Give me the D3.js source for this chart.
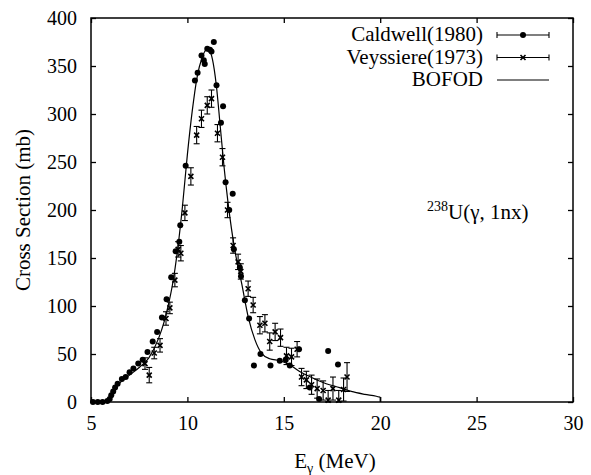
<html>
<script src="https://d3js.org/d3.v7.min.js"></script>
<style>
body{margin:0;background:#fff;}
</style>
<body>
<div class="chart"></div>
</body>
<script>
// Caldwell(1980) : [E (MeV), sigma (mb)]
const caldwell = [
  [5.1,0],[5.35,0],[5.6,0],[5.85,1],[5.97,3],[6.05,7],[6.15,11],[6.25,15],[6.38,19],
  [6.6,24],[6.8,26],[7.0,31],[7.2,35],[7.45,40],[7.68,44],[7.93,52],[8.2,63],[8.43,73],
  [8.68,88],[8.92,107],[9.16,130],[9.39,157],[9.58,167],[9.63,184],[9.91,246],[10.39,335],
  [10.53,343],[10.73,361],[10.85,356],[10.9,352],[11.03,368],[11.17,367],[11.25,365],
  [11.37,375],[11.51,330],[11.74,291],[11.85,308],[11.98,229],[12.17,200],[12.35,217],
  [12.41,159],[12.72,140],[12.78,131],[12.98,106],[13.2,87],[13.45,38],[13.79,50],
  [14.31,38],[14.79,43],[15.1,44],[15.31,38],[15.79,55],[16.35,15],[16.83,3],[17.3,53],[17.81,39]
];

// Veyssiere(1973) : [E, sigma, error]
const veyssiere = [
  [7.8,40,6],[8.02,28,8],[8.28,51,6],[8.58,59,7],[8.89,87,7],[9.09,98,6],[9.35,127,7],
  [9.52,159,8],[9.66,155,8],[9.87,197,8],[10.18,235,9],[10.48,278,9],[10.73,295,9],
  [11.03,309,9],[11.25,316,9],[11.56,280,9],[11.82,255,9],[12.08,200,8],[12.37,163,8],
  [12.63,146,8],[12.77,136,8],[13.15,118,8],[13.41,101,8],[13.76,80,9],[14.02,82,9],
  [14.27,63,9],[14.55,73,9],[14.83,67,9],[15.14,48,9],[15.4,47,9],[15.69,55,8],
  [15.92,26,9],[16.17,23,9],[16.44,18,10],[16.73,14,10],[17.04,12,10],[17.3,2,10],
  [17.55,14,12],[17.85,2,10],[18.1,13,12],[18.28,26,15]
];

// BOFOD evaluation curve
const bofod = [
  [5.9,0],[6.0,3],[6.1,8],[6.25,14],[6.5,20],[7.0,28],[7.5,36],[8.0,46],[8.5,66],[8.8,84],
  [9.0,100],[9.25,125],[9.5,160],[9.75,205],[10.0,258],[10.25,303],[10.5,338],[10.75,358],
  [11.0,367],[11.15,366],[11.3,357],[11.5,330],[11.7,288],[11.9,245],[12.1,209],[12.46,158],
  [12.81,124],[13.15,89],[13.5,65],[13.84,51],[14.27,45],[14.8,43],[15.2,40],[15.8,32],
  [16.5,25],[17.2,19],[17.9,15],[18.5,11],[19.2,8],[19.8,6],[20.0,5]
];
const bofodEnd = [[20.0,5],[20.0,0]];

const xTicks = [5, 10, 15, 20, 25, 30];
const yTicks = [0, 50, 100, 150, 200, 250, 300, 350, 400];
const legendNames = ['Caldwell(1980)', 'Veyssiere(1973)', 'BOFOD'];

const W = 591, H = 475;
const m = {left: 91, right: 18, top: 18, bottom: 73};
const FONT = "'Liberation Serif'";

const svg = d3.select('.chart').append('svg')
  .attr('width', W).attr('height', H);

const x = d3.scaleLinear().domain([5, 30]).range([m.left, W - m.right]);
const y = d3.scaleLinear().domain([0, 400]).range([H - m.bottom, m.top]);

const styleAxis = g => {
  g.attr('font-size', 20);
  g.select('.domain').remove();
  g.selectAll('line').attr('stroke', '#000').attr('stroke-width', 1.3);
  g.selectAll('text').attr('fill', '#000');
};

svg.append('g').attr('transform', `translate(0,${H - m.bottom})`)
  .call(d3.axisBottom(x).tickValues(xTicks).tickSizeInner(-5).tickSizeOuter(0).tickPadding(14))
  .call(styleAxis);
svg.append('g').attr('transform', `translate(0,${m.top})`)
  .call(d3.axisTop(x).tickValues(xTicks).tickSizeInner(-5).tickSizeOuter(0).tickFormat(''))
  .call(styleAxis);
svg.append('g').attr('transform', `translate(${m.left},0)`)
  .call(d3.axisLeft(y).tickValues(yTicks).tickSizeInner(-5).tickSizeOuter(0).tickPadding(14))
  .call(styleAxis);
svg.append('g').attr('transform', `translate(${W - m.right},0)`)
  .call(d3.axisRight(y).tickValues(yTicks).tickSizeInner(-5).tickSizeOuter(0).tickFormat(''))
  .call(styleAxis);

svg.append('rect')
  .attr('x', m.left).attr('y', m.top)
  .attr('width', W - m.left - m.right).attr('height', H - m.top - m.bottom)
  .attr('fill', 'none').attr('stroke', '#000').attr('stroke-width', 1.5);

// BOFOD curve
const line = d3.line().x(d => x(d[0])).y(d => y(d[1])).curve(d3.curveMonotoneX);
svg.append('path').attr('d', line(bofod))
  .attr('fill', 'none').attr('stroke', '#000').attr('stroke-width', 1.2);
svg.append('path').attr('d', d3.line().x(d => x(d[0])).y(d => y(d[1]))(bofodEnd))
  .attr('fill', 'none').attr('stroke', '#000').attr('stroke-width', 1.2);

// Veyssiere error bars + crosses
const vg = svg.append('g').attr('stroke', '#000').attr('stroke-width', 1.1);
veyssiere.forEach(([e, s, err]) => {
  const cx = x(e), y0 = y(Math.max(0, s - err)), y1 = y(s + err);
  vg.append('line').attr('x1', cx).attr('x2', cx).attr('y1', y0).attr('y2', y1);
  vg.append('line').attr('x1', cx - 3).attr('x2', cx + 3).attr('y1', y0).attr('y2', y0);
  vg.append('line').attr('x1', cx - 3).attr('x2', cx + 3).attr('y1', y1).attr('y2', y1);
  const cy = y(s);
  vg.append('path').attr('d', `M${cx-2.5},${cy-2.5}L${cx+2.5},${cy+2.5}M${cx-2.5},${cy+2.5}L${cx+2.5},${cy-2.5}`)
    .attr('stroke-width', 1.6);
});

// Caldwell dots
svg.append('g').selectAll('circle').data(caldwell).enter().append('circle')
  .attr('cx', d => x(d[0])).attr('cy', d => y(d[1])).attr('r', 3).attr('fill', '#000');

// legend
const lg = svg.append('g');
legendNames.forEach((name, i) => {
  const cy = 35 + i * 22.5;
  lg.append('text').attr('x', 483).attr('y', cy + 6).attr('text-anchor', 'end')
    .attr('font-size', 21).text(name);
  lg.append('line').attr('x1', 497).attr('x2', 549).attr('y1', cy).attr('y2', cy)
    .attr('stroke', '#000').attr('stroke-width', 1.1);
  if (i < 2) {
    [497, 549].forEach(xx => lg.append('line').attr('x1', xx).attr('x2', xx)
      .attr('y1', cy - 3).attr('y2', cy + 3).attr('stroke', '#000').attr('stroke-width', 1.1));
  }
  if (i === 0) {
    lg.append('circle').attr('cx', 523).attr('cy', cy).attr('r', 3).attr('fill', '#000');
  }
  if (i === 1) {
    lg.append('path').attr('d', `M520.5,${cy-2.5}L525.5,${cy+2.5}M520.5,${cy+2.5}L525.5,${cy-2.5}`)
      .attr('stroke', '#000').attr('stroke-width', 1.6);
  }
});

// reaction label
const ann = svg.append('text').attr('x', 427).attr('y', 219).attr('font-size', 21);
ann.append('tspan').attr('font-size', 14).attr('dy', -8).text('238');
ann.append('tspan').attr('dy', 8).text('U(γ, 1nx)');

// axis titles
const xt = svg.append('text').attr('x', 335).attr('y', 468).attr('text-anchor', 'middle').attr('font-size', 21);
xt.append('tspan').text('E');
xt.append('tspan').attr('font-size', 14).attr('dy', 5).text('γ');
xt.append('tspan').attr('dy', -5).text(' (MeV)');

svg.append('text').attr('transform', 'translate(30,210) rotate(-90)')
  .attr('text-anchor', 'middle').attr('font-size', 21).text('Cross Section (mb)');

svg.selectAll('text').style('font-family', FONT).style('fill', '#000');
</script>
</html>
